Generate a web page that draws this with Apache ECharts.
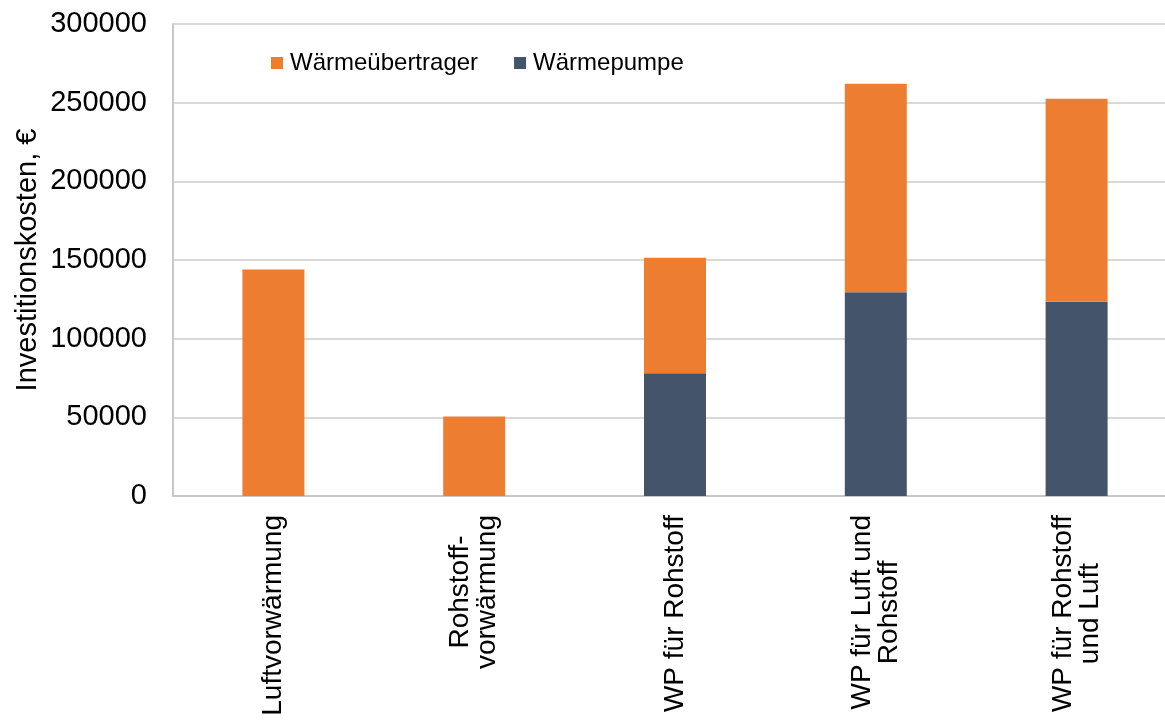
<!DOCTYPE html>
<html>
<head>
<meta charset="utf-8">
<script src="https://cdn.jsdelivr.net/npm/echarts@6/dist/echarts.min.js"></script>
<style>
html,body{margin:0;padding:0;background:#fff;overflow:hidden;}
#chart{width:1180px;height:722px;}
</style>
</head>
<body>
<div id="chart"></div>
<script>
const categories = ['Luftvorwärmung', 'Rohstoff-\nvorwärmung', 'WP für Rohstoff', 'WP für Luft und\nRohstoff', 'WP für Rohstoff\nund Luft'];
const waermepumpe = [0, 0, 78000, 129500, 123500];
const waermeuebertrager = [144000, 50500, 73500, 132500, 129000];
const yTicks = { min: 0, max: 300000, interval: 50000 };

const FONT = "'Liberation Sans', Arial, sans-serif";
const chart = echarts.init(document.getElementById('chart'));
chart.setOption({
  animation: false,
  backgroundColor: '#ffffff',
  textStyle: { fontFamily: FONT, color: '#000' },
  grid: { left: 173, top: 24, bottom: 226, right: 3, containLabel: false },
  legend: {
    data: ['Wärmeübertrager', 'Wärmepumpe'],
    left: 271, top: 51,
    icon: 'rect', itemWidth: 12, itemHeight: 12, itemGap: 36, padding: 0,
    textStyle: { fontSize: 24, fontFamily: FONT, color: '#000', padding: [0, 0, 0, 2] }
  },
  xAxis: {
    type: 'category',
    data: categories,
    axisLine: { show: true, lineStyle: { color: '#c8c8c8', width: 2 } },
    axisTick: { show: false },
    axisLabel: {
      rotate: 90, margin: 19, interval: 0,
      fontSize: 28, lineHeight: 27, color: '#000', fontFamily: FONT,
      formatter: function (v) { return v.split('\n').map(s => '{c|' + s + '}').join('\n'); },
      rich: { c: { align: 'center', fontSize: 28, lineHeight: 27, color: '#000', fontFamily: FONT } }
    }
  },
  yAxis: {
    type: 'value',
    min: yTicks.min, max: yTicks.max, interval: yTicks.interval,
    name: 'Investitionskosten, €',
    nameLocation: 'middle', nameGap: 131, nameMoveOverlap: false,
    nameTextStyle: { fontSize: 29, color: '#000', fontFamily: FONT },
    axisLine: { show: true, lineStyle: { color: '#c8c8c8', width: 2 } },
    axisTick: { show: false },
    axisLabel: { fontSize: 29, color: '#000', margin: 26, fontFamily: FONT,
      formatter: function (v) { return String(v); } },
    splitLine: { show: true, lineStyle: { color: '#d9d9d9', width: 2 } }
  },
  series: [
    { name: 'Wärmepumpe', type: 'bar', stack: 'total', data: waermepumpe, barWidth: 62,
      itemStyle: { color: '#44546A' } },
    { name: 'Wärmeübertrager', type: 'bar', stack: 'total', data: waermeuebertrager, barWidth: 62,
      itemStyle: { color: '#ED7D31' } }
  ]
});
</script>
</body>
</html>
